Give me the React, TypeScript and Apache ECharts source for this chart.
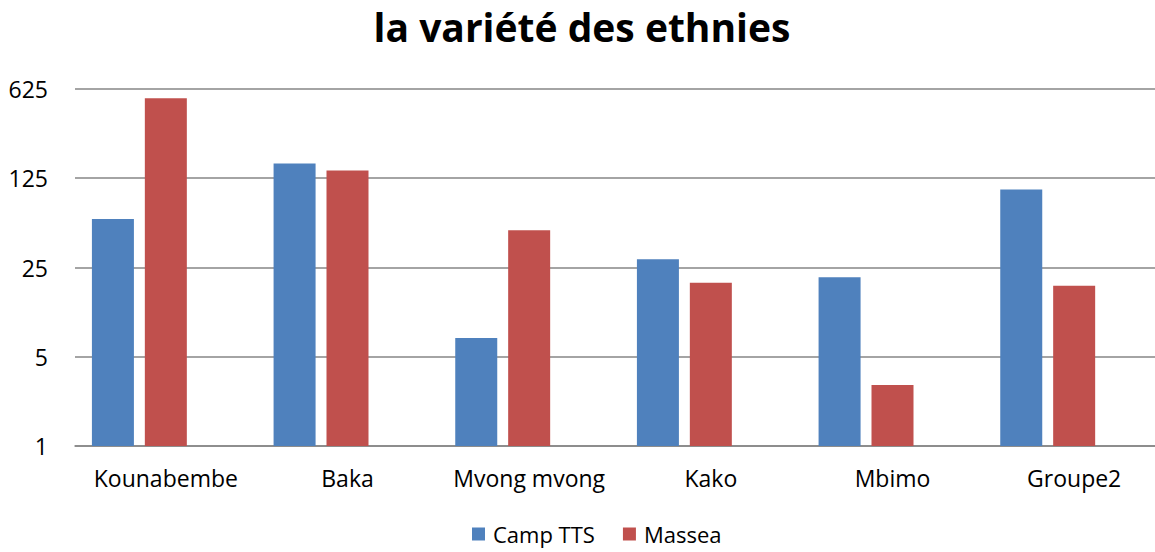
import React, { useEffect, useRef } from "react";
import * as echarts from "echarts";

const categories = ["Kounabembe", "Baka", "Mvong mvong", "Kako", "Mbimo", "Groupe2"];
const campTTS = [60, 163, 7, 29, 21, 102];
const massea = [530, 144, 49, 19, 3, 18];
const emptySeries = [null, null, null, null, null, null];
const yTicks = [1, 5, 25, 125, 625];

export default function App() {
  const ref = useRef<HTMLDivElement>(null);
  useEffect(() => {
    const chart = echarts.init(ref.current!, null, { renderer: "svg" });
    const font = "'Open Sans', sans-serif";
    chart.setOption({
      animation: false,
      title: {
        text: "la variété des ethnies",
        left: 577,
        textAlign: "center",
        top: 2,
        textStyle: { fontFamily: font, fontSize: 39, fontWeight: "bold", color: "#000" },
      },
      legend: {
        data: ["Camp TTS", "Massea"],
        bottom: 2,
        left: 467,
        itemWidth: 13,
        itemHeight: 13,
        itemGap: 28,
        icon: "rect",
        textStyle: { fontFamily: font, fontSize: 22, color: "#000", padding: [0, 0, 0, 3] },
      },
      grid: { left: 75, top: 89, width: 1090, height: 357, containLabel: false },
      xAxis: {
        type: "category",
        data: categories,
        axisLine: { lineStyle: { color: "#868686", width: 1.5 } },
        axisTick: { show: false },
        axisLabel: { fontFamily: font, fontSize: 23, color: "#000", margin: 20, interval: 0 },
      },
      yAxis: {
        type: "log",
        logBase: 5,
        min: yTicks[0],
        max: yTicks[yTicks.length - 1],
        axisLine: { show: false },
        axisTick: { show: false },
        axisLabel: { fontFamily: font, fontSize: 23, color: "#000", margin: 27 },
        splitLine: { lineStyle: { color: "#868686", width: 1.5 } },
      },
      series: [
        {
          name: "Camp TTS",
          type: "bar",
          data: campTTS,
          barWidth: 42,
          barGap: "26%",
          itemStyle: { color: "#4F81BD" },
        },
        {
          name: "Massea",
          type: "bar",
          data: massea,
          barWidth: 42,
          barGap: "26%",
          itemStyle: { color: "#C0504D" },
        },
        {
          name: "empty",
          type: "bar",
          data: emptySeries,
          barWidth: 42,
          barGap: "26%",
          itemStyle: { color: "#9BBB59" },
        },
      ],
    });
    return () => chart.dispose();
  }, []);
  return (
    <div style={{ width: 1155, height: 552, position: "absolute", left: 0, top: 0, overflow: "hidden" }}>
      <div ref={ref} style={{ width: 1170, height: 552 }} />
    </div>
  );
}
